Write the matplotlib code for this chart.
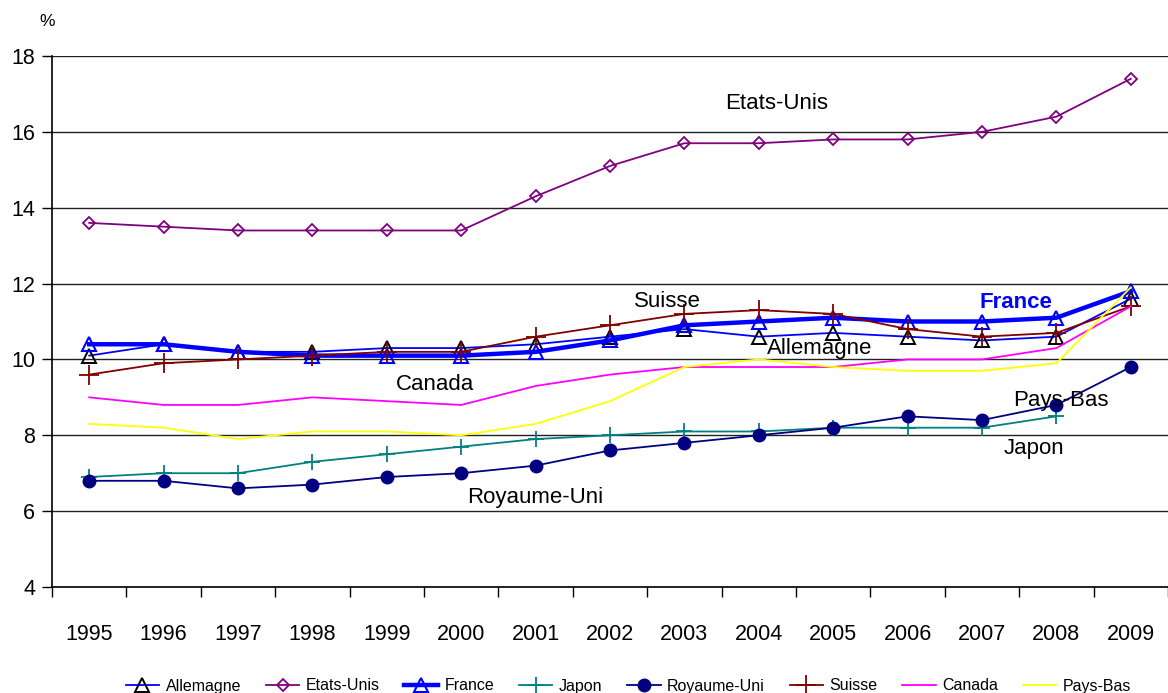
import numpy as np
import matplotlib
matplotlib.use("Agg")
import matplotlib.pyplot as plt
from matplotlib.ticker import FixedLocator

plt.rcParams['font.family'] = ['Liberation Sans', 'DejaVu Sans']

years = [str(y) for y in range(1995, 2010)]

allemagne = [10.1, 10.4, 10.2, 10.2, 10.3, 10.3, 10.4, 10.6, 10.8, 10.6, 10.7, 10.6, 10.5, 10.6, 11.6]
etats_unis = [13.6, 13.5, 13.4, 13.4, 13.4, 13.4, 14.3, 15.1, 15.7, 15.7, 15.8, 15.8, 16.0, 16.4, 17.4]
france = [10.4, 10.4, 10.2, 10.1, 10.1, 10.1, 10.2, 10.5, 10.9, 11.0, 11.1, 11.0, 11.0, 11.1, 11.8]
japon = [6.9, 7.0, 7.0, 7.3, 7.5, 7.7, 7.9, 8.0, 8.1, 8.1, 8.2, 8.2, 8.2, 8.5, np.nan]
royaume_uni = [6.8, 6.8, 6.6, 6.7, 6.9, 7.0, 7.2, 7.6, 7.8, 8.0, 8.2, 8.5, 8.4, 8.8, 9.8]
suisse = [9.6, 9.9, 10.0, 10.1, 10.2, 10.2, 10.6, 10.9, 11.2, 11.3, 11.2, 10.8, 10.6, 10.7, 11.4]
canada = [9.0, 8.8, 8.8, 9.0, 8.9, 8.8, 9.3, 9.6, 9.8, 9.8, 9.8, 10.0, 10.0, 10.3, 11.4]
pays_bas = [8.3, 8.2, 7.9, 8.1, 8.1, 8.0, 8.3, 8.9, 9.8, 10.0, 9.8, 9.7, 9.7, 9.9, 11.9]

series = [
    ("Allemagne", allemagne, dict(color="#0000FF", lw=1.3, marker="^", ms=10.5,
                                  mfc="none", mec="black", mew=1.4)),
    ("Etats-Unis", etats_unis, dict(color="#800080", lw=1.3, marker="D", ms=6.5,
                                    mfc="none", mec="#800080", mew=1.3)),
    ("France", france, dict(color="#0000FF", lw=3.2, marker="^", ms=10.5,
                            mfc="none", mec="#0000FF", mew=1.5)),
    ("Japon", japon, dict(color="#008080", lw=1.3, marker="+", ms=11, mew=1.3)),
    ("Royaume-Uni", royaume_uni, dict(color="#000080", lw=1.3, marker="o", ms=9,
                                      mfc="#000080", mec="#000080")),
    ("Suisse", suisse, dict(color="#800000", lw=1.3, marker="+", ms=14, mew=1.3)),
    ("Canada", canada, dict(color="#FF00FF", lw=1.3)),
    ("Pays-Bas", pays_bas, dict(color="#FFFF00", lw=1.3)),
]

fig = plt.figure(figsize=(11.68, 6.93), dpi=100)
ax = fig.add_axes([52 / 1168, 1 - 587 / 693, 1116 / 1168, (587 - 56) / 693])

x = np.arange(len(years))
handles = []
for i, (name, vals, style) in enumerate(series):
    h, = ax.plot(x, vals, label=name, zorder=3 + i * 0.1, clip_on=False, **style)
    handles.append(h)

ax.set_xlim(-0.5, len(years) - 0.5)
ax.set_ylim(4, 18)
ax.set_yticks(np.arange(4, 19, 2))
ax.yaxis.grid(True, color="#222222", lw=1.0)
ax.set_axisbelow(True)

ax.set_xticks(x)
ax.set_xticklabels(years, fontsize=15.5)
ax.xaxis.set_minor_locator(FixedLocator(np.arange(-0.5, len(years), 1.0)))
ax.tick_params(axis="x", which="major", length=0, pad=27)
ax.tick_params(axis="x", which="minor", length=7, width=1, color="black", direction="out")
ax.tick_params(axis="y", length=7, width=1, labelsize=15.5, pad=5)

for side in ("top", "right"):
    ax.spines[side].set_visible(False)
ax.spines["left"].set_linewidth(1.2)
ax.spines["bottom"].set_linewidth(1.2)

fig.text(47 / 1168, 1 - 22 / 693, "%", fontsize=12.5, ha="center", va="center")

# Series annotations inside the plot
notes = [
    ("Etats-Unis", 9.24, 16.76, "black", "normal"),
    ("Suisse", 7.77, 11.54, "black", "normal"),
    ("France", 12.45, 11.49, "#0000FF", "bold"),
    ("Allemagne", 9.82, 10.3, "black", "normal"),
    ("Canada", 4.65, 9.33, "black", "normal"),
    ("Pays-Bas", 13.06, 8.93, "black", "normal"),
    ("Japon", 12.7, 7.64, "black", "normal"),
    ("Royaume-Uni", 6.0, 6.37, "black", "normal"),
]
for txt, tx, ty, col, wt in notes:
    ax.text(tx, ty, txt, fontsize=16, color=col, fontweight=wt,
            ha="center", va="center", zorder=10)

fig.legend(handles=handles, loc="center", bbox_to_anchor=(0.538, 1 - 686 / 693),
           ncol=8, frameon=False, fontsize=11.5, handlelength=2.1,
           handletextpad=0.4, columnspacing=1.55, borderaxespad=0)

fig.savefig("out.png", dpi=100)
